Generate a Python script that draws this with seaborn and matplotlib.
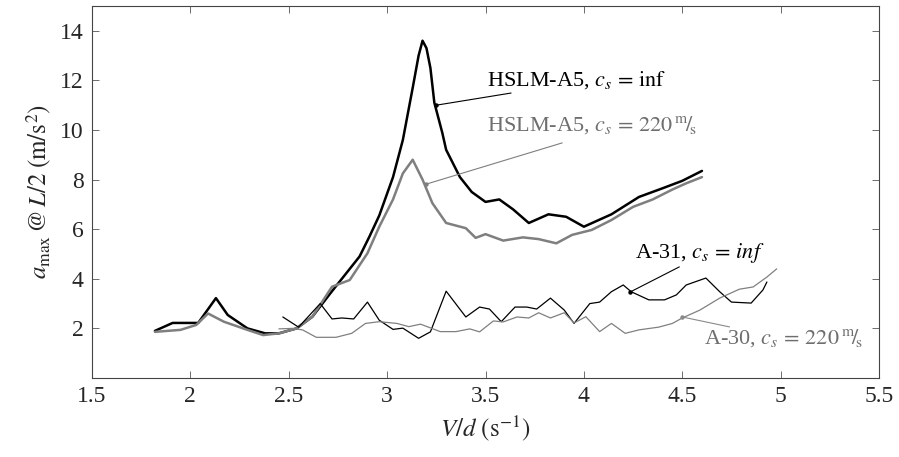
import matplotlib
matplotlib.use("Agg")
import matplotlib.pyplot as plt
import seaborn as sns
import pandas as pd

# ---- data ----
hslm_inf_x = [1.82, 1.91, 2.04, 2.13, 2.19, 2.29, 2.38, 2.45, 2.54, 2.62,
              2.71, 2.79, 2.86, 2.91, 2.96, 3.03, 3.08, 3.13, 3.16, 3.18,
              3.20, 3.22, 3.24, 3.28, 3.30, 3.37, 3.43, 3.50, 3.57, 3.64,
              3.72, 3.82, 3.91, 4.00, 4.14, 4.28, 4.40, 4.50, 4.60]
hslm_inf_y = [1.90, 2.22, 2.22, 3.22, 2.54, 2.00, 1.80, 1.80, 2.00, 2.47,
              3.40, 4.20, 4.90, 5.70, 6.55, 8.10, 9.60, 11.70, 13.00, 13.60,
              13.30, 12.50, 11.10, 9.90, 9.20, 8.10, 7.50, 7.10, 7.20, 6.80,
              6.25, 6.60, 6.50, 6.10, 6.60, 7.30, 7.65, 7.95, 8.35]

hslm_220_x = [1.82, 1.95, 2.03, 2.09, 2.17, 2.29, 2.37, 2.45, 2.54, 2.62,
              2.72, 2.81, 2.90, 2.96, 3.03, 3.08, 3.13, 3.18, 3.23, 3.30,
              3.40, 3.45, 3.50, 3.59, 3.69, 3.77, 3.86, 3.94, 4.04, 4.14,
              4.25, 4.35, 4.45, 4.52, 4.60]
hslm_220_y = [1.86, 1.94, 2.14, 2.60, 2.27, 1.94, 1.73, 1.80, 2.00, 2.47,
              3.68, 3.95, 5.03, 6.10, 7.20, 8.25, 8.80, 8.00, 7.05, 6.25,
              6.04, 5.65, 5.80, 5.54, 5.67, 5.60, 5.43, 5.77, 5.97, 6.37,
              6.90, 7.20, 7.60, 7.85, 8.10]

a31_x = [2.47, 2.55, 2.66, 2.72, 2.77, 2.83, 2.90, 2.96, 3.03, 3.08,
         3.16, 3.22, 3.30, 3.40, 3.47, 3.52, 3.58, 3.65, 3.71, 3.76,
         3.83, 3.90, 3.95, 4.03, 4.08, 4.14, 4.20, 4.24, 4.33, 4.41,
         4.47, 4.52, 4.62, 4.69, 4.75, 4.85, 4.91, 4.93]
a31_y = [2.46, 2.05, 3.00, 2.38, 2.42, 2.38, 3.06, 2.33, 1.96, 2.01,
         1.60, 1.86, 3.50, 2.46, 2.86, 2.78, 2.27, 2.86, 2.86, 2.78,
         3.22, 2.74, 2.20, 3.00, 3.06, 3.48, 3.75, 3.48, 3.15, 3.15,
         3.35, 3.75, 4.03, 3.48, 3.06, 3.02, 3.55, 3.87]

a30_x = [2.45, 2.52, 2.57, 2.64, 2.74, 2.82, 2.89, 2.96, 3.05, 3.11,
         3.17, 3.27, 3.35, 3.42, 3.47, 3.54, 3.59, 3.66, 3.72, 3.77,
         3.83, 3.90, 3.95, 4.01, 4.08, 4.14, 4.21, 4.28, 4.38, 4.45,
         4.50, 4.59, 4.69, 4.79, 4.86, 4.93, 4.98]
a30_y = [1.98, 2.00, 1.94, 1.64, 1.64, 1.80, 2.20, 2.27, 2.20, 2.07,
         2.17, 1.87, 1.87, 1.98, 1.86, 2.30, 2.26, 2.46, 2.42, 2.63,
         2.42, 2.63, 2.22, 2.47, 1.87, 2.20, 1.80, 1.94, 2.05, 2.20,
         2.42, 2.74, 3.22, 3.58, 3.67, 4.07, 4.40]

x_ticks = [1.5, 2, 2.5, 3, 3.5, 4, 4.5, 5, 5.5]
x_tick_labels = ["1.5", "2", "2.5", "3", "3.5", "4", "4.5", "5", "5.5"]
y_ticks = [2, 4, 6, 8, 10, 12, 14]
y_tick_labels = ["2", "4", "6", "8", "10", "12", "14"]

labels = [
    r"HSLM-A5, $c_s\,=\,\mathrm{inf}$",
    r"HSLM-A5, $c_s\,=\,220\,{}^{\mathrm{m}}\!/\!_{\mathrm{s}}$",
    r"A-31, $c_s\,=\,inf$",
    r"A-30, $c_s\,=\,220\,{}^{\mathrm{m}}\!/\!_{\mathrm{s}}$",
]
# (point on curve, end of pin line, text anchor)
pin_points = [(3.25, 11.0), (3.20, 7.82), (4.236, 3.47), (4.50, 2.46)]
pin_ends = [(3.63, 11.49), (3.89, 9.48), (4.485, 4.48), (4.74, 2.06)]
text_pos = [(3.51, 12.0), (3.51, 10.2), (4.26, 5.04), (4.61, 1.61)]

# ---- style ----
sns.set_style("ticks")
plt.rcParams["font.family"] = ["Liberation Serif", "DejaVu Serif"]
plt.rcParams["mathtext.fontset"] = "stix"

fig, ax = plt.subplots(figsize=(8.99, 4.57), dpi=100)
fig.subplots_adjust(left=0.1023, right=0.9778, top=0.9869, bottom=0.1729)

series = [
    (hslm_inf_x, hslm_inf_y, "black", 1.8),
    (hslm_220_x, hslm_220_y, "#7f7f7f", 1.8),
    (a31_x, a31_y, "black", 0.9),
    (a30_x, a30_y, "#808080", 0.9),
]
for xs, ys, col, lw in series:
    df = pd.DataFrame({"x": xs, "y": ys})
    sns.lineplot(data=df, x="x", y="y", ax=ax, color=col, linewidth=lw,
                 sort=False, estimator=None)

text_colors = ["black", "#6e6e6e", "black", "#6e6e6e"]
line_colors = ["black", "#7f7f7f", "black", "#8a8a8a"]
for lab, pt, end, tp, tc, lc in zip(labels, pin_points, pin_ends, text_pos,
                                    text_colors, line_colors):
    ax.annotate("", xy=pt, xytext=end,
                arrowprops=dict(arrowstyle="-", color=lc, lw=0.8,
                                shrinkA=0, shrinkB=0))
    ax.plot([pt[0]], [pt[1]], marker="o", markersize=2.2, color=lc)
    ax.text(tp[0], tp[1], lab, color=tc, fontsize=16, ha="left", va="center")

ax.set_xlim(1.5, 5.5)
ax.set_ylim(0, 15)
ax.set_xticks(x_ticks)
ax.set_xticklabels(x_tick_labels)
ax.set_yticks(y_ticks)
ax.set_yticklabels(y_tick_labels)
ax.tick_params(direction="in", length=5, width=0.6, color="#555555",
               labelsize=17, top=True, right=True, pad=6)
for sp in ax.spines.values():
    sp.set_visible(True)
    sp.set_color("#444444")
    sp.set_linewidth(0.8)

ax.set_xlabel(r"$V/d\,\,(\mathrm{s}^{-1})$", fontsize=18, labelpad=4)
ax.set_ylabel(r"$a_{\max}\,@\,L/2\;(\mathrm{m}/\mathrm{s}^{2})$",
              fontsize=18, labelpad=4)

fig.savefig("out.png", dpi=100)
